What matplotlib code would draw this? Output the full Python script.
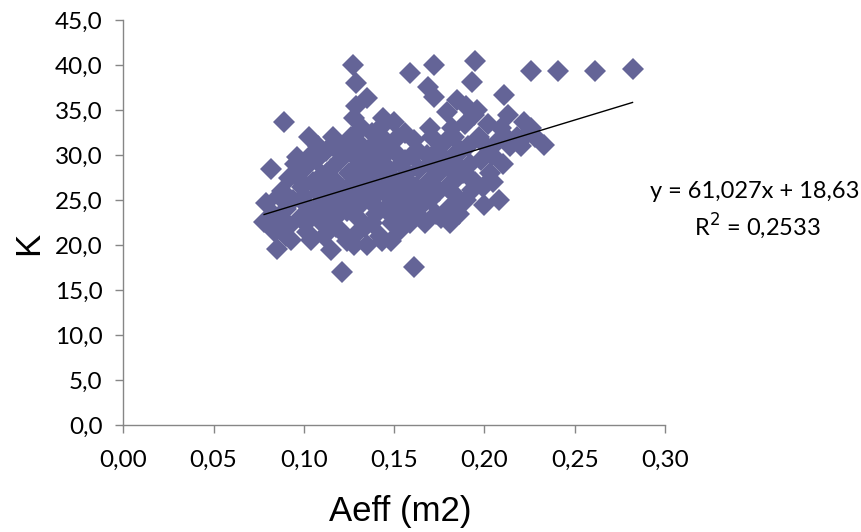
import numpy as np
import matplotlib.pyplot as plt
from matplotlib.ticker import FuncFormatter

# === Daten ===
aeff = [0.078, 0.079, 0.082, 0.085, 0.083, 0.084, 0.086,
        0.089, 0.088, 0.090, 0.091, 0.093, 0.092, 0.094, 0.095, 0.096, 0.090,
        0.098, 0.099, 0.100, 0.101, 0.102, 0.103, 0.104, 0.105, 0.104, 0.100, 0.103,
        0.107, 0.108, 0.109, 0.110, 0.111, 0.112, 0.113, 0.114, 0.115, 0.116, 0.115, 0.110, 0.108,
        0.117, 0.118, 0.119, 0.120, 0.121, 0.121, 0.122, 0.123, 0.124, 0.125, 0.124, 0.119, 0.122, 0.118,
        0.127, 0.129, 0.128, 0.129, 0.135, 0.128, 0.135, 0.126, 0.127, 0.128, 0.129, 0.130, 0.131,
        0.132, 0.133, 0.134, 0.132, 0.130, 0.134, 0.131, 0.133,
        0.137, 0.138, 0.139, 0.140, 0.141, 0.142, 0.143, 0.144, 0.144, 0.145, 0.136, 0.138, 0.140,
        0.142, 0.143, 0.145, 0.139, 0.141,
        0.147, 0.148, 0.149, 0.150, 0.150, 0.151, 0.152, 0.153, 0.154, 0.155, 0.146, 0.148, 0.152,
        0.155, 0.149,
        0.159, 0.161, 0.161, 0.157, 0.158, 0.159, 0.160, 0.162, 0.163, 0.164, 0.165, 0.156, 0.163, 0.157,
        0.167, 0.169, 0.172, 0.172, 0.168, 0.169, 0.170, 0.171, 0.172, 0.173, 0.174, 0.175, 0.166, 0.170,
        0.179, 0.185, 0.181, 0.177, 0.178, 0.179, 0.180, 0.181, 0.182, 0.183, 0.184, 0.185, 0.176, 0.183,
        0.193, 0.195, 0.193, 0.187, 0.188, 0.189, 0.190, 0.191, 0.192, 0.194, 0.195, 0.186, 0.190,
        0.200, 0.197, 0.198, 0.199, 0.201, 0.202, 0.203, 0.204, 0.196,
        0.208, 0.211, 0.207, 0.209, 0.210, 0.212, 0.213, 0.214,
        0.222, 0.233, 0.218, 0.220, 0.224, 0.226, 0.228,
        0.2256, 0.241, 0.261, 0.282,
        0.097, 0.106, 0.113, 0.118, 0.125, 0.137, 0.146, 0.150, 0.158, 0.165,
        0.175, 0.184, 0.192, 0.205, 0.110, 0.140, 0.156, 0.088, 0.134, 0.170]
k = [22.6, 24.7, 28.5, 19.6, 23.5, 21.5, 25.5,
     33.7, 26.0, 24.0, 22.0, 20.6, 27.5, 25.0, 29.0, 29.8, 21.0,
     23.0, 26.5, 28.5, 24.5, 21.5, 32.0, 20.6, 27.0, 30.0, 25.5, 22.8,
     29.5, 25.8, 23.5, 27.8, 21.0, 30.5, 24.5, 26.5, 19.4, 32.0, 28.5, 22.5, 31.0,
     23.0, 27.0, 25.0, 29.5, 17.0, 21.5, 31.0, 26.0, 23.8, 28.0, 20.5, 30.5, 24.8, 22.0,
     40.0, 38.0, 34.1, 35.4, 36.3, 20.0, 20.0, 32.0, 30.0, 27.5, 25.5, 23.0, 29.0,
     33.0, 26.5, 22.0, 31.0, 21.5, 28.0, 24.5, 30.5,
     25.0, 32.5, 27.0, 23.5, 29.5, 21.0, 31.0, 34.1, 26.0, 24.0, 30.0, 22.5, 28.0,
     33.0, 20.5, 30.0, 24.5, 26.8,
     28.5, 25.5, 22.5, 33.7, 30.5, 27.0, 24.0, 21.7, 29.0, 26.0, 31.5, 20.5, 32.0,
     23.5, 27.5,
     39.1, 17.6, 31.7, 28.0, 25.0, 22.5, 30.0, 26.5, 24.0, 28.5, 23.0, 32.5, 30.5, 26.0,
     22.4, 37.6, 40.0, 36.5, 30.0, 27.0, 25.0, 32.0, 28.5, 23.5, 30.5, 26.0, 24.8, 33.0,
     34.8, 36.1, 22.4, 29.0, 31.5, 26.5, 24.0, 28.5, 33.0, 30.0, 25.5, 27.5, 23.0, 32.0,
     38.1, 40.4, 26.1, 30.5, 28.0, 33.5, 25.0, 31.0, 29.0, 34.5, 27.0, 23.5, 35.5,
     24.4, 32.0, 29.5, 26.5, 31.0, 33.5, 28.0, 30.0, 35.0,
     25.0, 36.7, 31.5, 33.0, 29.0, 32.0, 34.5, 31.0,
     33.7, 31.1, 32.0, 31.0, 32.5, 33.0, 32.0,
     39.3, 39.3, 39.3, 39.6,
     27.5, 24.0, 28.0, 25.5, 26.5, 28.5, 26.0, 25.0, 27.0, 26.0,
     28.0, 29.0, 27.5, 27.0, 26.0, 31.5, 29.5, 23.0, 26.0, 29.0]

# Trendlinie laut Excel
steigung = 61.027
achsenabschnitt = 18.63

fig = plt.figure(figsize=(8.62, 5.32), dpi=100)
ax = fig.add_axes([0.143, 0.2011, 0.6285, 0.7613])

ax.plot(aeff, k, "D", ms=10.8, color="#646497", mew=0, linestyle="none")

xt = np.array([min(aeff), max(aeff)])
ax.plot(xt, steigung * xt + achsenabschnitt, color="black", lw=1)

ax.set_xlim(0, 0.30)
ax.set_ylim(0, 45)
ax.set_xticks(np.arange(0, 0.301, 0.05))
ax.set_yticks(np.arange(0, 45.1, 5))
ax.xaxis.set_major_formatter(FuncFormatter(lambda v, p: f"{v:.2f}".replace(".", ",")))
ax.yaxis.set_major_formatter(FuncFormatter(lambda v, p: f"{v:.1f}".replace(".", ",")))

for s in ["top", "right"]:
    ax.spines[s].set_visible(False)
for s in ["left", "bottom"]:
    ax.spines[s].set_color("#868686")
    ax.spines[s].set_linewidth(1)
ax.tick_params(axis="both", direction="out", length=6, width=1, color="#868686",
               labelsize=17.5)
ax.tick_params(axis="y", pad=9)
ax.tick_params(axis="x", pad=12)
for lab in ax.get_xticklabels() + ax.get_yticklabels():
    lab.set_family("Lato")

fig.text(400 / 862, 1 - 512 / 532, "Aeff (m2)", ha="center", va="center",
         family="Liberation Sans", fontsize=25)
fig.text(29 / 862, 1 - 243 / 532, "K", ha="center", va="center", rotation=90,
         family="Liberation Sans", fontsize=25)

fig.text(755 / 862, 1 - 192 / 532, "y = 61,027x + 18,63", ha="center", va="center",
         family="Lato", fontsize=17)
fig.text(757 / 862, 1 - 226 / 532, "R$^2$ = 0,2533", ha="center", va="center",
         family="Lato", fontsize=17)

fig.savefig("out.png", dpi=100)
